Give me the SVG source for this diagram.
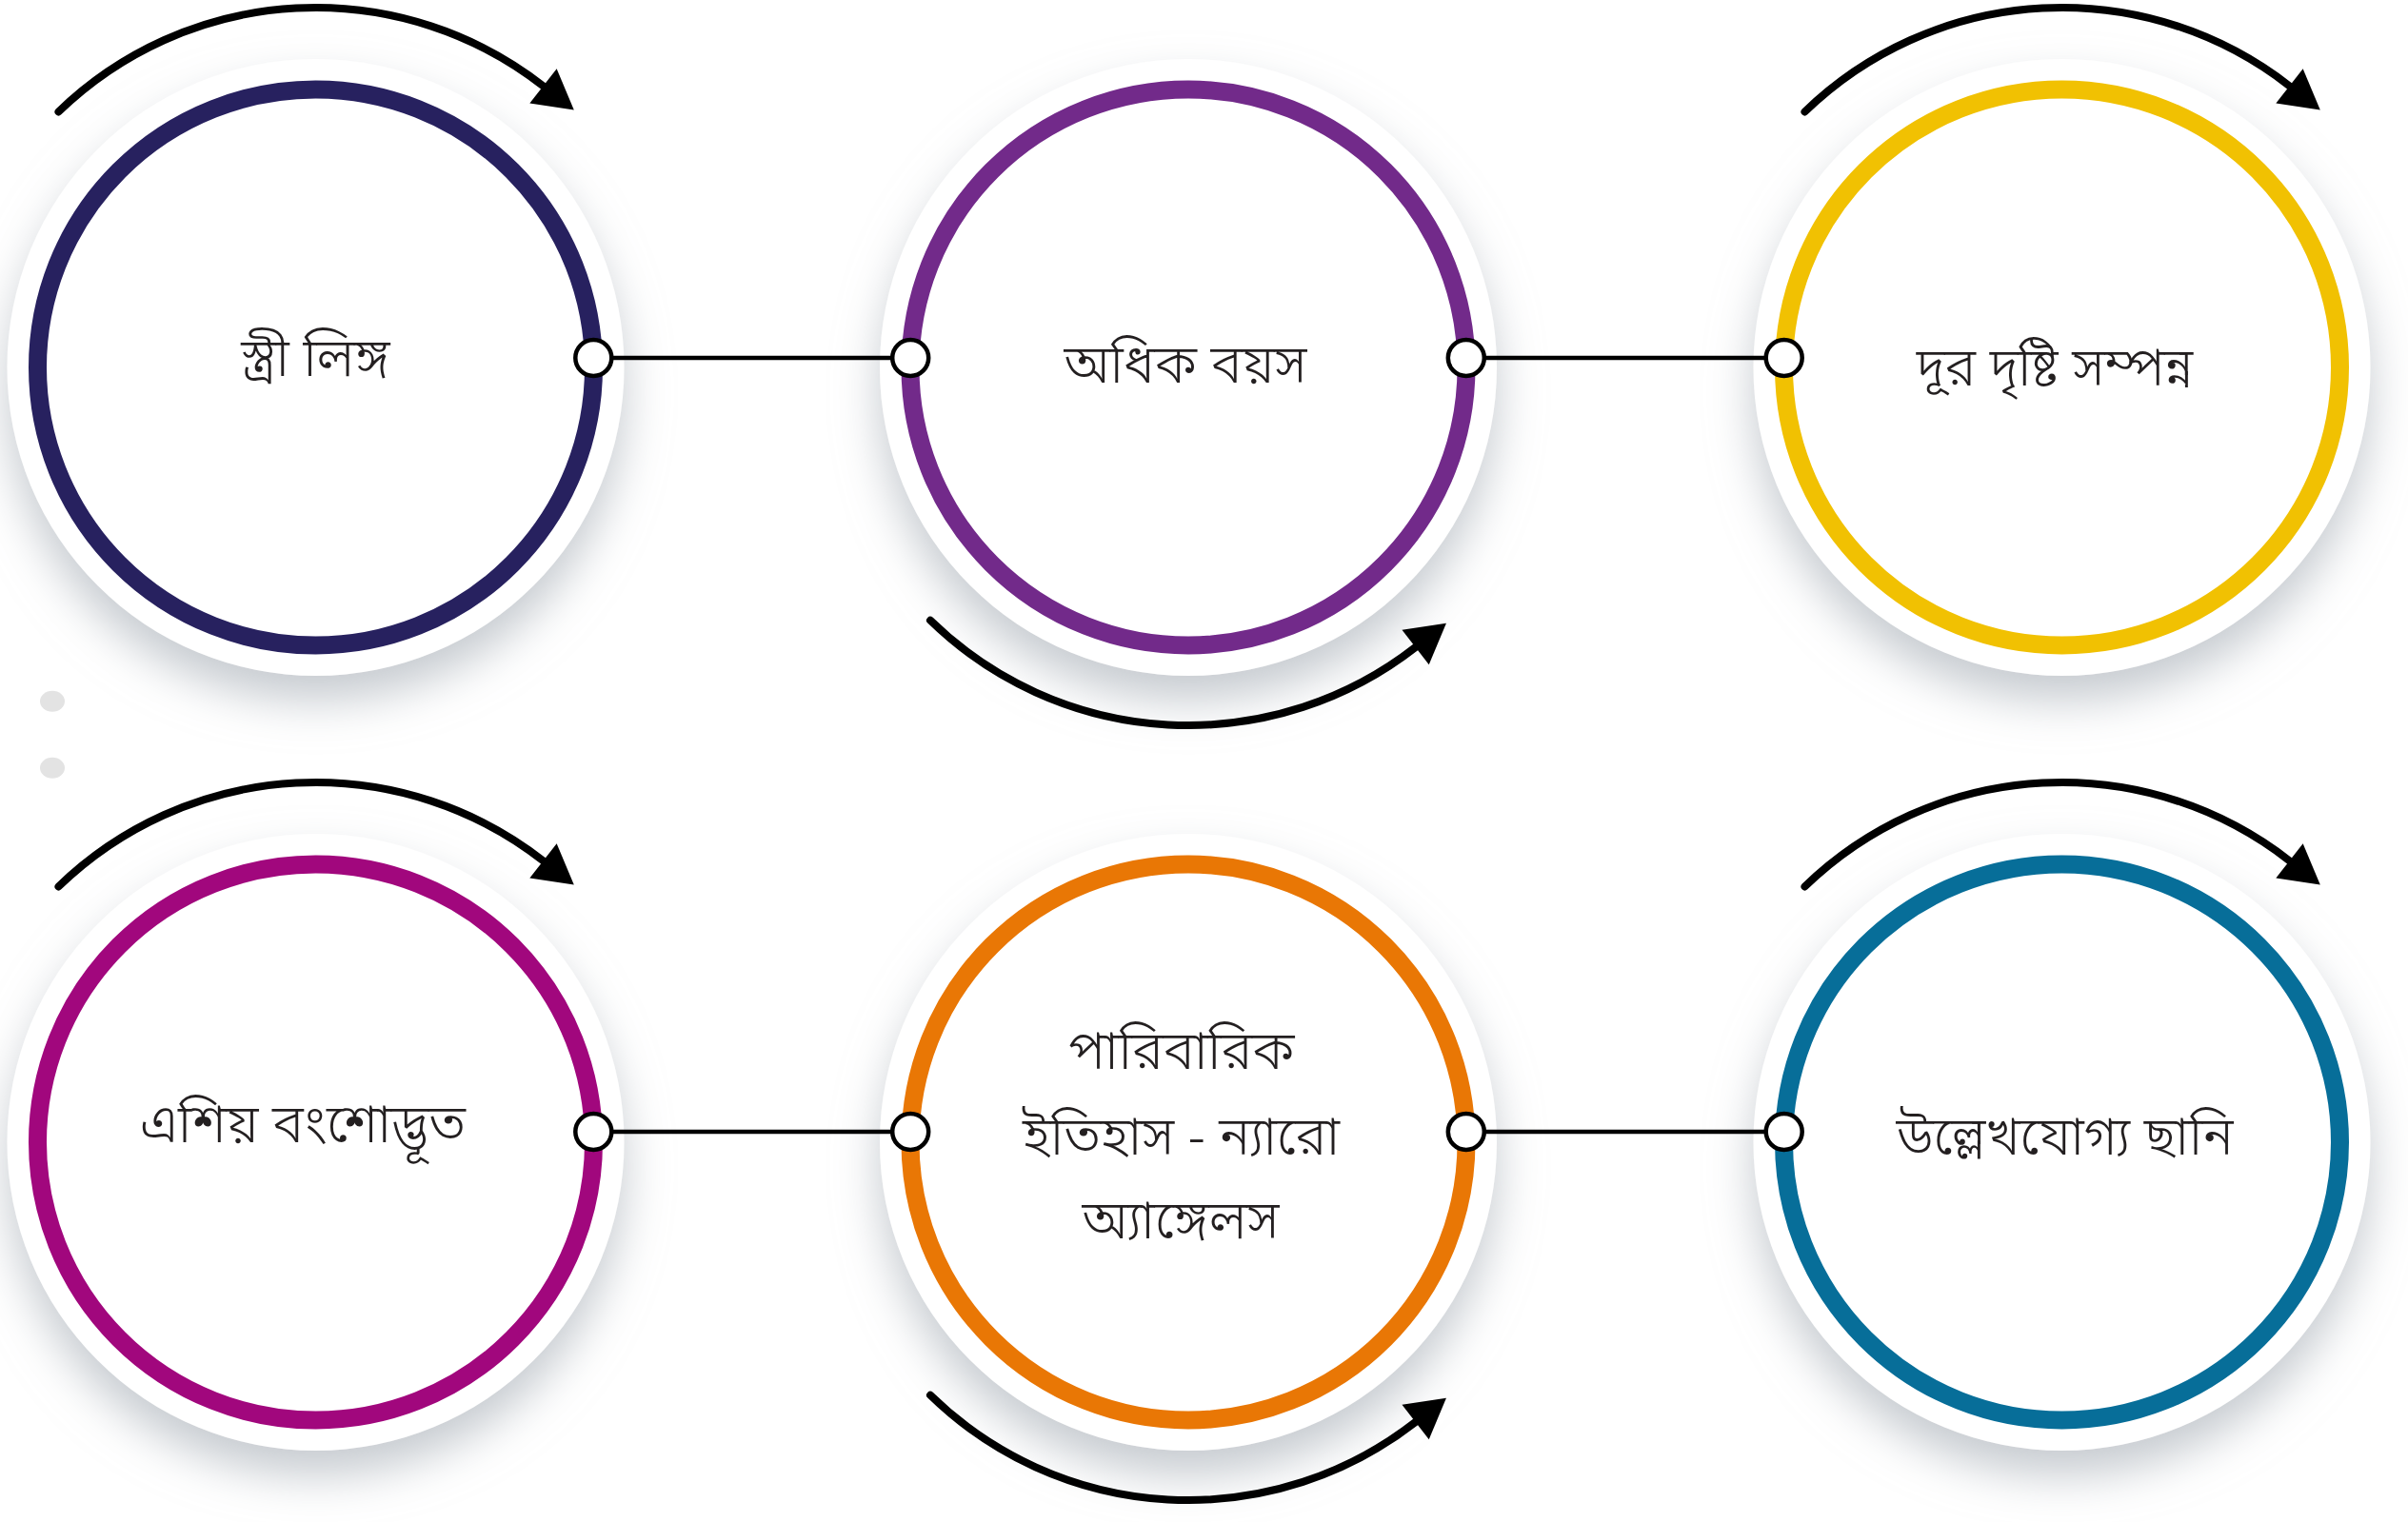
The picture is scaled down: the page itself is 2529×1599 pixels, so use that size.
<svg xmlns="http://www.w3.org/2000/svg" width="2529" height="1599" viewBox="0 0 2529 1599">
<style>
.disc{fill:#ffffff;filter:url(#sh)}
.ring{fill:none;stroke-width:19}
.lbl{font-family:"Noto Sans Bengali","Noto Serif Bengali","Lohit Bengali","FreeSans","Noto Sans",sans-serif;font-size:56px;font-weight:300;fill:#231f20;text-anchor:middle}
.link{stroke:#000;stroke-width:4.5;fill:none}
.dot{fill:#fff;stroke:#000;stroke-width:4.5}
.arc{fill:none;stroke:#000;stroke-width:8;stroke-linecap:round;marker-end:url(#ah)}
</style>
<defs>
<filter id="sh" x="-30%" y="-30%" width="160%" height="170%">
<feGaussianBlur in="SourceAlpha" stdDeviation="24"/>
<feOffset dy="26" result="b"/>
<feFlood flood-color="#a7aeb6" flood-opacity="0.65"/>
<feComposite in2="b" operator="in"/>
<feMerge><feMergeNode/><feMergeNode in="SourceGraphic"/></feMerge>
</filter>
<marker id="ah" markerUnits="userSpaceOnUse" markerWidth="45" markerHeight="50" viewBox="0 -25 45 50" refX="0" refY="0" orient="auto" overflow="visible">
<path d="M0,-23 L41,0 L0,23 z" fill="#000"/>
</marker>
</defs>
<rect width="2529" height="1599" fill="#fff"/>
<g id="decor">
<ellipse cx="55" cy="736.7" rx="13" ry="11" fill="#e3e3e3"/>
<ellipse cx="55" cy="806.7" rx="13" ry="11" fill="#e3e3e3"/>
</g>
<g id="node1">
<circle class="disc" cx="331.5" cy="386" r="324"/>
<circle class="ring" cx="331.5" cy="386" r="292" stroke="#27215f"/>
<text class="lbl" x="331.5" y="395">স্ত্রী লিঙ্গ</text>
</g>
<g id="node2">
<circle class="disc" cx="1248" cy="386" r="324"/>
<circle class="ring" cx="1248" cy="386" r="292" stroke="#722a8a"/>
<text class="lbl" x="1245" y="402">অধিক বয়স</text>
</g>
<g id="node3">
<circle class="disc" cx="2165.5" cy="386" r="324"/>
<circle class="ring" cx="2165.5" cy="386" r="292" stroke="#f1c102"/>
<text class="lbl" x="2158" y="405">দূর দৃষ্টি সম্পন্ন</text>
</g>
<g id="node4">
<circle class="disc" cx="331.5" cy="1200" r="324"/>
<circle class="ring" cx="331.5" cy="1200" r="292" stroke="#a1077d"/>
<text class="lbl" x="318" y="1200">এশিয় বংশোদ্ভূত</text>
</g>
<g id="node5">
<circle class="disc" cx="1248" cy="1200" r="324"/>
<circle class="ring" cx="1248" cy="1200" r="292" stroke="#e97705"/>
<text class="lbl" x="1241" y="1123">পারিবারিক</text>
<text class="lbl" x="1240.5" y="1213">ইতিহাস - ন্যারো</text>
<text class="lbl" x="1240" y="1301">অ্যাঙ্গেলস</text>
</g>
<g id="node6">
<circle class="disc" cx="2165.5" cy="1200" r="324"/>
<circle class="ring" cx="2165.5" cy="1200" r="292" stroke="#076e99"/>
<text class="lbl" x="2168.5" y="1213">উল্লেখযোগ্য ছানি</text>
</g>
<g id="connectors">
<line class="link" x1="623.3" y1="376" x2="956.2" y2="376"/>
<line class="link" x1="1539.8" y1="376" x2="1873.7" y2="376"/>
<line class="link" x1="623.3" y1="1189" x2="956.2" y2="1189"/>
<line class="link" x1="1539.8" y1="1189" x2="1873.7" y2="1189"/>
<circle class="dot" cx="623.3" cy="376" r="19"/>
<circle class="dot" cx="956.2" cy="376" r="19"/>
<circle class="dot" cx="1539.8" cy="376" r="19"/>
<circle class="dot" cx="1873.7" cy="376" r="19"/>
<circle class="dot" cx="623.3" cy="1189" r="19"/>
<circle class="dot" cx="956.2" cy="1189" r="19"/>
<circle class="dot" cx="1539.8" cy="1189" r="19"/>
<circle class="dot" cx="1873.7" cy="1189" r="19"/>
</g>
<g id="arrows">
<path class="arc" d="M61.5 117.4 A388 388 0 0 1 570.5 90.3"/>
<path class="arc" d="M1895.5 117.4 A388 388 0 0 1 2404.5 90.3"/>
<path class="arc" d="M61.5 931.4 A388 388 0 0 1 570.5 904.3"/>
<path class="arc" d="M1895.5 931.4 A388 388 0 0 1 2404.5 904.3"/>
<path class="arc" d="M977 651.7 A388 388 0 0 0 1486.6 680"/>
<path class="arc" d="M977 1465.7 A388 388 0 0 0 1486.6 1494"/>
</g>
</svg>
